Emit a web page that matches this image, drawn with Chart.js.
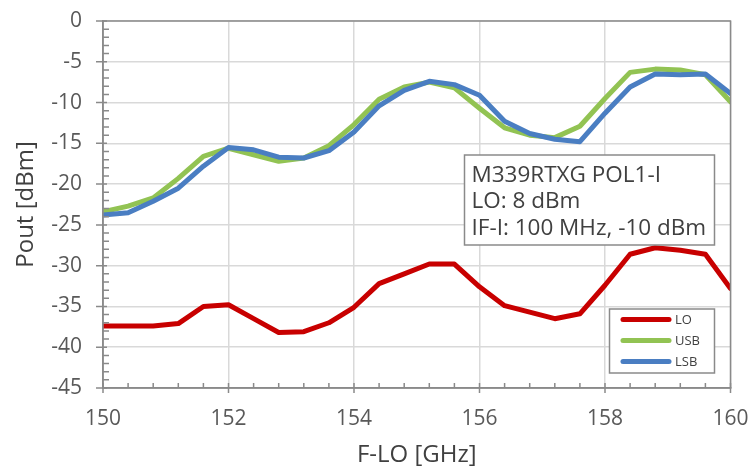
<!DOCTYPE html>
<html>
<head>
<meta charset="utf-8">
<script src="https://cdn.jsdelivr.net/npm/chart.js@4"></script>
<style>
html,body{margin:0;padding:0;background:#fff;}
#wrap{width:753px;height:468px;}
</style>
</head>
<body>
<div id="wrap"><canvas id="c" width="753" height="468"></canvas></div>
<script>
const freqGHz = [150,150.4,150.8,151.2,151.6,152,152.4,152.8,153.2,153.6,154,154.4,154.8,155.2,155.6,156,156.4,156.8,157.2,157.6,158,158.4,158.8,159.2,159.6,160];
const loPout  = [-37.4,-37.4,-37.4,-37.1,-35.0,-34.8,-36.5,-38.2,-38.1,-37.0,-35.1,-32.2,-31.0,-29.8,-29.8,-32.6,-34.9,-35.7,-36.5,-35.9,-32.4,-28.6,-27.8,-28.1,-28.6,-32.8];
const usbPout = [-23.4,-22.7,-21.7,-19.3,-16.6,-15.6,-16.4,-17.2,-16.8,-15.3,-12.7,-9.6,-8.1,-7.5,-8.2,-10.7,-13.1,-14.0,-14.3,-12.9,-9.5,-6.3,-5.9,-6.0,-6.6,-9.9];
const lsbPout = [-23.8,-23.5,-22.1,-20.5,-17.8,-15.5,-15.8,-16.7,-16.8,-15.9,-13.6,-10.4,-8.5,-7.4,-7.8,-9.1,-12.3,-13.8,-14.5,-14.8,-11.3,-8.1,-6.5,-6.6,-6.5,-8.9];
const seriesNames = ['LO','USB','LSB'];
const xTicks = [150,152,154,156,158,160];
const yTicks = [0,-5,-10,-15,-20,-25,-30,-35,-40,-45];
const noteLines = ['M339RTXG POL1-I','LO: 8 dBm','IF-I: 100 MHz, -10 dBm'];
const xTitle = 'F-LO [GHz]';
const yTitle = 'Pout [dBm]';

const colors = ['#C80000','#92C353','#4A7EC2'];
const FONT = '"Open Sans", "DejaVu Sans", sans-serif';

function pts(vals){ return freqGHz.map((f,i)=>({x:f,y:vals[i]})); }

const decorPlugin = {
  id:'decor',
  afterDatasetsDraw(chart){
    const ctx = chart.ctx;
    const ca = chart.chartArea;
    const xs = chart.scales.x, ys = chart.scales.y;
    ctx.save();
    ctx.strokeStyle = '#8a8a8a';
    ctx.lineWidth = 1.5;
    ctx.strokeRect(ca.left, ca.top, ca.right-ca.left, ca.bottom-ca.top);
    ctx.beginPath();
    for (let v = xs.min; v <= xs.max + 1e-9; v += 0.4) {
      const px = xs.getPixelForValue(v);
      const isMajor = Math.abs(v/2 - Math.round(v/2)) < 1e-6;
      if (isMajor) { ctx.moveTo(px, ca.bottom-5); ctx.lineTo(px, ca.bottom+5); }
      else { ctx.moveTo(px, ca.bottom-5); ctx.lineTo(px, ca.bottom); }
    }
    for (let v = ys.min; v <= ys.max + 1e-9; v += 1) {
      const py = ys.getPixelForValue(v);
      const isMajor = Math.abs(v/5 - Math.round(v/5)) < 1e-6;
      if (isMajor) { ctx.moveTo(ca.left-7, py); ctx.lineTo(ca.left+4, py); }
      else { ctx.moveTo(ca.left, py); ctx.lineTo(ca.left+6, py); }
    }
    ctx.stroke();

    const bx = 464.5, by = 155, bw = 250, bh = 90;
    ctx.fillStyle = '#fff';
    ctx.fillRect(bx, by, bw, bh);
    ctx.strokeStyle = '#8a8a8a';
    ctx.lineWidth = 1.5;
    ctx.strokeRect(bx, by, bw, bh);
    ctx.fillStyle = '#404040';
    ctx.font = '22.5px ' + FONT;
    ctx.textBaseline = 'alphabetic';
    ctx.textAlign = 'left';
    noteLines.forEach((t,i)=>{ ctx.fillText(t, bx+7, by+26.7+i*26.7); });

    const lx = 609.5, ly = 309, lw = 105, lh = 64;
    ctx.fillStyle = '#fff';
    ctx.fillRect(lx, ly, lw, lh);
    ctx.strokeRect(lx, ly, lw, lh);
    ctx.font = '13px ' + FONT;
    ctx.textBaseline = 'middle';
    const rowY = [319.5, 340.5, 361.5];
    seriesNames.forEach((n,i)=>{
      ctx.strokeStyle = colors[i];
      ctx.lineWidth = 5;
      ctx.lineCap = 'round';
      ctx.beginPath();
      ctx.moveTo(623, rowY[i]); ctx.lineTo(669, rowY[i]);
      ctx.stroke();
      ctx.fillStyle = '#404040';
      ctx.fillText(n, 675, rowY[i]+1);
    });
    ctx.restore();
  }
};

new Chart(document.getElementById('c'), {
  type:'line',
  data:{
    datasets:[
      {label:seriesNames[0], data:pts(loPout), borderColor:colors[0], order:2},
      {label:seriesNames[1], data:pts(usbPout), borderColor:colors[1], order:1},
      {label:seriesNames[2], data:pts(lsbPout), borderColor:colors[2], order:0}
    ].map(d=>Object.assign(d,{borderWidth:5, pointRadius:0, tension:0, fill:false, borderJoinStyle:'round', borderCapStyle:'round'}))
  },
  options:{
    responsive:false,
    animation:false,
    devicePixelRatio:1,
    layout:{padding:{left:0, top:21, right:22.5, bottom:0}},
    plugins:{legend:{display:false}, tooltip:{enabled:false}},
    scales:{
      x:{
        type:'linear', min:150, max:160,
        afterBuildTicks(s){ s.ticks = xTicks.map(v=>({value:v})); },
        afterFit(s){ s.height = 80; s.paddingLeft = 0; s.paddingRight = 0; },
        grid:{color:'#d9d9d9', lineWidth:1.5, drawTicks:false},
        border:{display:true, color:'#8a8a8a', width:1.5},
        ticks:{padding:18, color:'#595959', font:{family:FONT, size:21}, maxRotation:0},
        title:{display:true, text:xTitle, color:'#404040', font:{family:FONT, size:24}, padding:{top:0,bottom:-2}}
      },
      y:{
        type:'linear', min:-45, max:0,
        afterBuildTicks(s){ s.ticks = yTicks.map(v=>({value:v})); },
        afterFit(s){ s.width = 103; s.paddingTop = 0; s.paddingBottom = 0; },
        grid:{color:'#d9d9d9', lineWidth:1.5, drawTicks:false},
        border:{display:true, color:'#8a8a8a', width:1.5},
        ticks:{padding:21, color:'#595959', font:{family:FONT, size:21}},
        title:{display:true, text:yTitle, color:'#404040', font:{family:FONT, size:24}, padding:{top:12,bottom:0}}
      }
    }
  },
  plugins:[decorPlugin]
});
</script>
</body>
</html>
